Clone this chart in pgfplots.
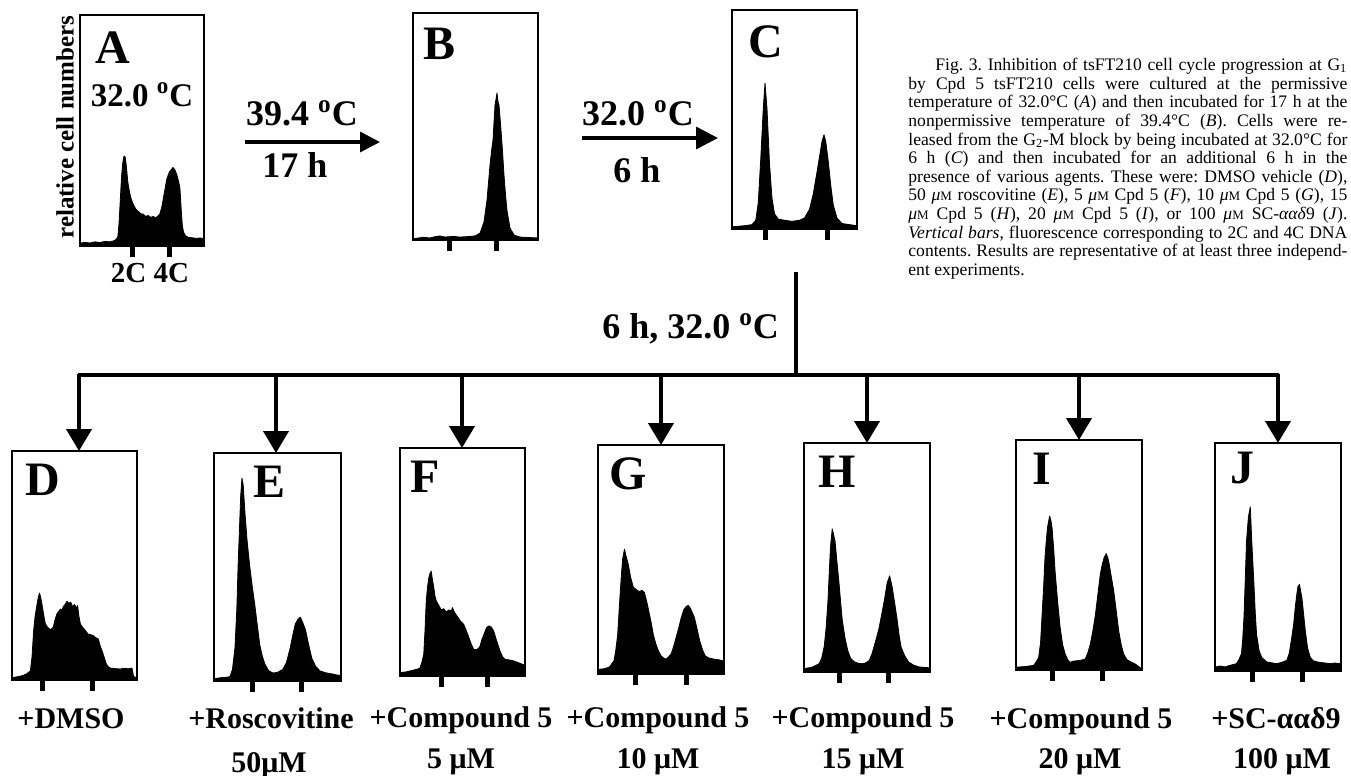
\documentclass[border=0pt]{standalone}
\usepackage{pgfplots}
\pgfplotsset{compat=1.18}
\usepackage{fontspec}
\setmainfont{Liberation Serif}
\usetikzlibrary{arrows.meta}

\pgfplotsset{
  histo/.style={
    scale only axis,
    xmin=0, xmax=100, ymin=0, ymax=100,
    axis line style={line width=1pt},
    ytick=\empty,
    xticklabels={},
    xtick pos=left,
    tick align=outside,
    major tick length=5.5pt,
    xtick style={line width=2.5pt, black},
    anchor=north west,
    clip=true,
  },
  hfill/.style={fill=black, draw=black, line width=0.4pt, line join=round},
}
\newcommand{\uM}{\textit{μ}{\fontsize{6.5}{6.5}\selectfont M}}
\newcommand{\lbl}{\bfseries\fontsize{15}{17}\selectfont}
\newcommand{\arr}{\bfseries\fontsize{18}{20}\selectfont}
\newcommand{\panellet}{\bfseries\fontsize{24}{24}\selectfont}

\begin{document}
\frenchspacing
\begin{tikzpicture}
\begin{scope}[x=0.5pt,y=-0.5pt]
\path[use as bounding box] (0,0) rectangle (1351,776);

% ---- top row annotations
\node[rotate=90, font=\bfseries\fontsize{12.5}{14}\selectfont] at (65,127) {relative cell numbers};
\node[font=\bfseries\fontsize{16.5}{18}\selectfont, anchor=base] at (142,106) {32.0 \textsuperscript{o}C};
\node[font=\bfseries\fontsize{14.5}{16}\selectfont, anchor=base] at (150,282) {2C 4C};

\draw[line width=1.7pt, -{Triangle[length=10pt,width=10pt]}] (245,142) -- (380,142);
\node[font=\arr, anchor=base] at (302,125) {39.4 \textsuperscript{o}C};
\node[font=\arr, anchor=base] at (295,177) {17 h};

\draw[line width=1.7pt, -{Triangle[length=11pt,width=11pt]}] (582,138) -- (718,138);
\node[font=\arr, anchor=base] at (638,125) {32.0 \textsuperscript{o}C};
\node[font=\arr, anchor=base] at (637,182) {6 h};

% ---- branching lines
\draw[line width=2pt] (796,272) -- (796,375);
\node[font=\arr, anchor=base east] at (786,338) {6 h, 32.0 \textsuperscript{o}C};
\draw[line width=2pt] (78,375) -- (1279,375);
\foreach \x/\y in {79/451, 276/453, 462/448, 661/445, 867/443, 1079/440, 1278/443}{
  \draw[line width=2pt, -{Triangle[length=11pt,width=12.5pt]}] (\x,374) -- (\x,\y);
}

% ---- panel letters
\node[font=\panellet, anchor=base west, inner sep=0pt] at (95,63) {A};
\node[font=\panellet, anchor=base west, inner sep=0pt] at (423,60) {B};
\node[font=\panellet, anchor=base west, inner sep=0pt] at (748,57) {C};
\node[font=\panellet, anchor=base west, inner sep=0pt] at (25,495) {D};
\node[font=\panellet, anchor=base west, inner sep=0pt] at (253,497) {E};
\node[font=\panellet, anchor=base west, inner sep=0pt] at (410,492) {F};
\node[font=\panellet, anchor=base west, inner sep=0pt] at (609,489) {G};
\node[font=\panellet, anchor=base west, inner sep=0pt] at (818,487) {H};
\node[font=\panellet, anchor=base west, inner sep=0pt] at (1032,484) {I};
\node[font=\panellet, anchor=base west, inner sep=0pt] at (1230,483) {J};

% ---- bottom labels
\node[font=\lbl, anchor=base] at (71,728) {+DMSO};
\node[font=\lbl, anchor=base] at (271,728) {+Roscovitine};
\node[font=\lbl, anchor=base] at (269,772) {50μM};
\node[font=\lbl, anchor=base] at (461,727) {+Compound 5};
\node[font=\lbl, anchor=base] at (461,768) {5 μM};
\node[font=\lbl, anchor=base] at (658,727) {+Compound 5};
\node[font=\lbl, anchor=base] at (658,768) {10 μM};
\node[font=\lbl, anchor=base] at (863,727) {+Compound 5};
\node[font=\lbl, anchor=base] at (863,768) {15 μM};
\node[font=\lbl, anchor=base] at (1081,728) {+Compound 5};
\node[font=\lbl, anchor=base] at (1080,768) {20 μM};
\node[font=\lbl, anchor=base] at (1276,728) {+SC-ααδ9};
\node[font=\lbl, anchor=base] at (1282,768) {100 μM};

% ---- caption
\node[anchor=north west, inner sep=0pt, align=left, font=\fontsize{8.8}{9.3}\selectfont] at (908,58) {%
\hspace*{13.5pt}\makebox[206pt][s]{Fig. 3. Inhibition of tsFT210 cell cycle progression at G\textsubscript{1}}\\
\makebox[219.5pt][s]{by Cpd 5 tsFT210 cells were cultured at the permissive}\\
\makebox[219.5pt][s]{temperature of 32.0°C (\textit{A}) and then incubated for 17 h at the}\\
\makebox[219.5pt][s]{nonpermissive temperature of 39.4°C (\textit{B}). Cells were re-}\\
\makebox[219.5pt][s]{leased from the G\textsubscript{2}-M block by being incubated at 32.0°C for}\\
\makebox[219.5pt][s]{6 h (\textit{C}) and then incubated for an additional 6 h in the}\\
\makebox[219.5pt][s]{presence of various agents. These were: DMSO vehicle (\textit{D}),}\\
\makebox[219.5pt][s]{50 \uM{} roscovitine (\textit{E}), 5 \uM{} Cpd 5 (\textit{F}), 10 \uM{} Cpd 5 (\textit{G}), 15}\\
\makebox[219.5pt][s]{\uM{} Cpd 5 (\textit{H}), 20 \uM{} Cpd 5 (\textit{I}), or 100 \uM{} SC-\textit{ααδ}9 (\textit{J}).}\\
\makebox[219.5pt][s]{\textit{Vertical bars}, fluorescence corresponding to 2C and 4C DNA}\\
\makebox[219.5pt][s]{contents. Results are representative of at least three independ-}\\
ent experiments.};
\end{scope}

% ---- A
\begin{axis}[histo, at={(40pt,-7.5pt)}, width=62pt, height=115.5pt, xtick={42,72}]
\addplot[hfill] coordinates {(0,1.2) (4,1.6) (8,1.3) (12,1.8) (16,1.5) (20,2) (24,1.8) (27,2.2) (29,2.8) (30.5,4) (31.5,10) (32.5,20) (33.5,30) (34.5,36) (35.5,39) (36.5,38.5) (37.5,34) (38.5,28) (40,23) (41.5,20) (43,18) (45,16) (47,15) (49,14) (51,13.8) (53,12.8) (55,13.2) (57,12.4) (59,12.8) (61,12.2) (63,13) (64.5,14) (66,17) (68,23) (70,29) (72,32) (73.5,33) (75,34) (76.5,33) (78,31) (79.5,28) (80.6,25) (81.5,17) (82.5,9) (83.5,6) (85,4.5) (87,3.8) (90,3.6) (94,3.3) (97,3.5) (100,3)} \closedcycle;
\end{axis}
% ---- B
\begin{axis}[histo, at={(206.5pt,-6.5pt)}, width=62.5pt, height=113.5pt, xtick={29,67}]
\addplot[hfill] coordinates {(0,0.5) (8,1.2) (13.6,0.9) (18,1.5) (21.6,1.8) (25.6,1.3) (32,1.6) (37.6,1.3) (44,1.5) (49.6,1.8) (53.6,3) (56.8,8) (59.2,17.6) (61.6,33) (63,40) (64,44) (65.6,59.5) (66.4,62) (67.2,64.8) (68,61) (68.8,59.5) (70.4,48.5) (71.5,40) (72.8,28.6) (74,20) (75.2,13) (77.6,5.3) (80.8,2.2) (85.6,1.3) (92,1.1) (100,0.9)} \closedcycle;
\end{axis}
% ---- C
\begin{axis}[histo, at={(366pt,-5pt)}, width=62.5pt, height=109.5pt, xtick={26.4,76}]
\addplot[hfill] coordinates {(0,1) (10,1.5) (16,2) (19,4) (21,12) (23,32) (25,55) (26.4,66.7) (28,55) (30,30) (32,14) (34,7) (37,4.5) (42,4) (48,3.5) (54,4) (58,5) (62,9) (65,16) (68,26) (70,33) (72,40) (73.6,43) (75,40) (77,31) (79,20) (81,11) (84,5) (88,2.5) (94,2) (100,1.5)} \closedcycle;
\end{axis}
% ---- D
\begin{axis}[histo, at={(6pt,-225.5pt)}, width=62.5pt, height=114.5pt, xtick={24,64}]
\addplot[hfill] coordinates {(0,1) (5,1.5) (9,2) (12,2.8) (14.7,4) (16,10) (17.3,21.6) (18.5,28) (20,33) (21,36) (22,38) (23,36) (24,33) (25.5,28) (26.7,24.5) (28.5,23) (30.7,22) (32,22.5) (33,23) (34.5,26.5) (36,29) (37.5,30) (38.7,31) (40,30.5) (41,32) (42.5,33) (44,34.4) (45.5,33.5) (47,34) (48.5,32) (50,33) (51.5,31.5) (52.5,32.5) (53.5,28) (54.7,24.5) (56.5,23) (58.7,21.6) (61,20) (63,19.8) (65,19.4) (67,18.5) (69,18) (70.5,15) (72,12.8) (74,9.5) (75.5,7) (77,5.8) (78.7,5.2) (82,5) (86.7,4.8) (90,5.1) (93,4.9) (96,5.2) (97.3,1.5) (100,1)} \closedcycle;
\end{axis}
% ---- E
\begin{axis}[histo, at={(107pt,-226.5pt)}, width=63.5pt, height=114pt, xtick={30,69}]
\addplot[hfill] coordinates {(0,1) (6,1.5) (10,1.6) (12.6,2) (14.5,5) (16.5,14.5) (18,32) (19,51) (20,66) (21,81) (22,89) (23,86) (24.4,73.6) (26,62) (28,51) (30,42) (32,34) (34,25) (36,16) (38,11) (40,7.5) (43,4.5) (46.5,3.5) (50,3.8) (54,5) (57,8) (60,14.5) (62,20) (64,25) (66,27) (68,28) (70,25.5) (72,22.5) (74.5,16) (77,10) (80,6.5) (83.5,4.4) (88,3.6) (94,3) (97,2.6) (100,2.5)} \closedcycle;
\end{axis}
% ---- F
\begin{axis}[histo, at={(200pt,-224pt)}, width=62.5pt, height=114pt, xtick={33,70}]
\addplot[hfill] coordinates {(0,1.5) (5,1.8) (10,2.5) (14,3) (16,3.6) (17.5,6) (19,9.5) (20,20) (21,33) (22,39) (23,43) (24,45) (25,46) (26,42) (27,39) (28,35) (29,33) (31,31) (33,29) (35,29.5) (37,28) (39,29) (41,28.5) (42,30) (43.5,28) (46,26) (48.5,24) (51,22.6) (53,20) (55,17) (57,14) (59,11.7) (61,11.5) (62.5,12) (64,13) (65.5,16) (67,18) (69,21) (71,22) (73,21.5) (75,19.7) (77,16) (80,11) (82,8.5) (84,7.3) (88,7) (91,6.6) (95,5.8) (98.5,5) (100,4.5)} \closedcycle;
\end{axis}
% ---- G
\begin{axis}[histo, at={(299pt,-222.5pt)}, width=63pt, height=114.5pt, xtick={30,70}]
\addplot[hfill] coordinates {(0,2) (5,2.3) (9,3) (12.7,5.8) (14,10) (15.6,17) (17,30) (18.4,42) (19.5,50) (21,54.5) (22.5,51) (24,48) (26,42) (28,38) (30,37) (32.6,36) (35,36.5) (36.8,35.6) (38.5,32) (39.7,29) (42,23) (44,17) (46,13) (48,10) (50,8) (52,7) (54,6.5) (56,7.5) (58,8.7) (60,12) (62,16) (64,20) (66,24.5) (68,28) (70,29.5) (71.7,30) (73.5,28.5) (76.5,24.7) (78.5,20) (80.7,14.5) (83,10.5) (85,8) (88,7) (92,6.5) (96,6.2) (99,5.8) (100,5.5)} \closedcycle;
\end{axis}
% ---- H
\begin{axis}[histo, at={(402pt,-221.5pt)}, width=63pt, height=114.5pt, xtick={28,67}]
\addplot[hfill] coordinates {(0,1.5) (6,2) (12,3.6) (14,6) (16,11) (17.5,19) (19,31) (20,43) (21,54.5) (22.4,62.5) (23.5,60) (24.7,57) (26,49) (27.6,40) (29,31) (30.4,22.5) (32.5,15) (34.7,9.4) (37,6) (40,4.4) (43,3.8) (46,3.6) (49,4) (51.7,5) (54,8) (57,13.8) (59.5,19) (61.6,25) (64,32) (66,39) (68,42) (70,37) (72,30) (74,22.5) (75.5,16) (77,11) (80,7) (83,4.4) (87,3) (91.5,2.2) (96,2) (100,1.8)} \closedcycle;
\end{axis}
% ---- I
\begin{axis}[histo, at={(508pt,-220pt)}, width=63pt, height=115pt, xtick={29,69}]
\addplot[hfill] coordinates {(0,1.2) (7,1.5) (14,2) (16,3.5) (18,5.5) (19.5,12) (20.6,23) (22,37) (23,49) (24,56) (25,62) (26.7,67) (27.7,65) (28.6,62) (30,52) (31,43) (33,30) (35,18.6) (37,11) (39,7) (41,4.5) (43,3.3) (45,3.8) (48,4) (52,4.3) (55,4.8) (57,7.5) (59,11.3) (61,17) (63,24) (65,33) (67,42) (68.5,46) (70,49) (71.7,50.6) (73,48.5) (74,46) (75.5,41) (77.5,34.6) (79.5,26) (81.5,17) (83.5,11) (85.4,7) (88,4.5) (92,3.3) (95,2.5) (98.7,0.9) (100,0.8)} \closedcycle;
\end{axis}
% ---- J
\begin{axis}[histo, at={(607.5pt,-221.5pt)}, width=63pt, height=114pt, xtick={30,69.5}]
\addplot[hfill] coordinates {(0,1.7) (4,2.2) (8,1.8) (12,2.5) (17,3.2) (19,5) (21,7.6) (22,14) (23,23.7) (24,40) (25,57) (26.5,67.5) (28,72) (28.5,66) (29,59) (30,48) (31,37) (32,25) (33,16) (35,9) (37,6) (41,4) (45,3.6) (49,3.2) (53,3.8) (57,4.7) (59,8) (61,15) (62.5,21) (63.7,28) (65,34) (65.8,37) (67,38) (68,35) (69,32) (70.5,24) (71.6,18) (73.5,10) (75.6,6) (78,4.5) (81,4) (86,3.6) (91.5,3.2) (95,3.5) (99.5,3.2) (100,3)} \closedcycle;
\end{axis}
\end{tikzpicture}
\end{document}
